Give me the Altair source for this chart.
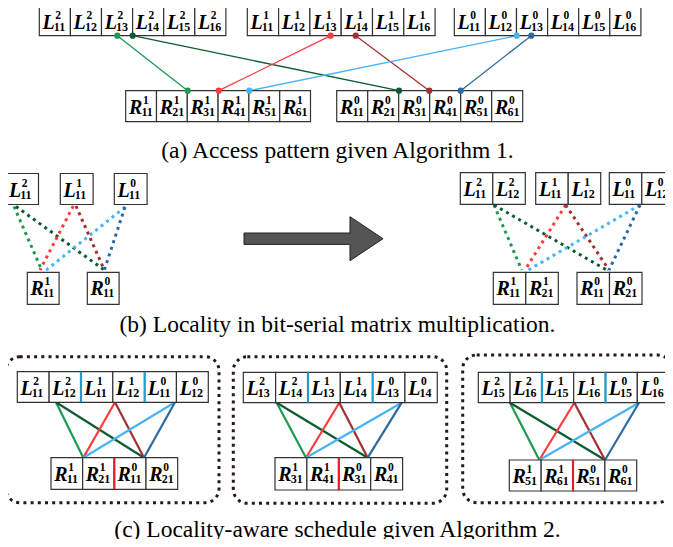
import altair as alt
import pandas as pd

# ---------------- canvas (data units = reference page pixels) ----------------
W, H = 657, 531
XD = [8, 8 + W]
YD = [8, 8 + H]

SERIF = "Liberation Serif"

# ---------------- colours ----------------
COL = {"g": "#1c9a50", "dg": "#0c5b32", "r": "#ff3b3b", "dr": "#a3302e",
       "lb": "#46b4f6", "db": "#2c69a0"}
BOX_STROKE = "#333333"
SEP_BLUE = "#1f9ccc"
SEP_RED = "#e3202a"
PANEL_STROKE = "#2a1818"
ARROW_FILL = "#555555"

# ---------------- text ----------------
CAPTIONS = ["(a) Access pattern given Algorithm 1.",
            "(b) Locality in bit-serial matrix multiplication.",
            "(c) Locality-aware schedule given Algorithm 2."]

# ---------------- cell label lists ----------------
A_L2_SUP = ["2"] * 6; A_L2_SUB = ["11", "12", "13", "14", "15", "16"]
A_L1_SUP = ["1"] * 6; A_L1_SUB = ["11", "12", "13", "14", "15", "16"]
A_L0_SUP = ["0"] * 6; A_L0_SUB = ["11", "12", "13", "14", "15", "16"]
A_R1_SUP = ["1"] * 6; A_R1_SUB = ["11", "21", "31", "41", "51", "61"]
A_R0_SUP = ["0"] * 6; A_R0_SUB = ["11", "21", "31", "41", "51", "61"]

B1_L_SUP = [["2"], ["1"], ["0"]]; B1_L_SUB = [["11"], ["11"], ["11"]]
B1_R_SUP = [["1"], ["0"]];        B1_R_SUB = [["11"], ["11"]]
B2_L_SUP = [["2", "2"], ["1", "1"], ["0", "0"]]; B2_L_SUB = [["11", "12"]] * 3
B2_R_SUP = [["1", "1"], ["0", "0"]];             B2_R_SUB = [["11", "21"]] * 2

C_L_SUP = ["2", "2", "1", "1", "0", "0"]
C_L_SUB = [["11", "12", "11", "12", "11", "12"],
           ["13", "14", "13", "14", "13", "14"],
           ["15", "16", "15", "16", "15", "16"]]
C_R_SUP = ["1", "1", "0", "0"]
C_R_SUB = [["11", "21", "11", "21"],
           ["31", "41", "31", "41"],
           ["51", "61", "51", "61"]]

# ---------------- layout (row left, top, cell width, cell height) ----------------
A_ROWS = [("L", A_L2_SUP, A_L2_SUB, 39.3, 6.0, 31.1, 29.7),
          ("L", A_L1_SUP, A_L1_SUB, 247.3, 6.0, 31.3, 29.7),
          ("L", A_L0_SUP, A_L0_SUB, 454.3, 6.0, 31.1, 29.7),
          ("R", A_R1_SUP, A_R1_SUB, 125.7, 90.7, 30.8, 31.0),
          ("R", A_R0_SUP, A_R0_SUB, 336.7, 90.7, 31.0, 31.0)]
B1_L_LEFT = [5.7, 60.3, 114.3]; B1_L_TOP = 173.5; B1_W = 32.8; B1_H = 31.0
B1_R_LEFT = [27.3, 87.3];       B1_R_TOP = 272.3
B2_L_LEFT = [460.3, 535.7, 609.3]; B2_L_TOP = 172.7; B2_W = 32.5
B2_R_LEFT = [493.3, 577.0];        B2_R_TOP = 272.3
C_PANEL = [(5.7, 219.0, 356.7, 502.7), (233.3, 446.7, 356.7, 503.3), (462.7, 671.7, 355.0, 502.7)]
C_LROW = [(17.3, 371.7, 31.83, 30.6), (243.3, 372.3, 32.33, 30.4), (478.3, 372.3, 31.8, 30.4)]
C_RROW = [(51.0, 457.7, 31.67, 31.6), (275.0, 457.7, 31.9, 32.3), (509.3, 460.0, 31.85, 31.0)]

# ---------------- connections ----------------
A_LINK_TOP = [117.3, 132.7, 330.7, 355.7, 516.7, 531.3]
A_LINK_BOT = [187.7, 399.0, 218.7, 429.3, 249.3, 460.7]
A_LINK_COL = ["g", "dg", "r", "dr", "lb", "db"]
A_Y_TOP, A_Y_BOT = 35.7, 90.7
B_LINKS = [(14.0, 206.5, 41.7, 270.0), (16.0, 206.5, 104.3, 270.0),
           (73.3, 206.0, 40.0, 270.0), (76.0, 206.0, 104.3, 270.0),
           (125.0, 207.0, 45.0, 271.0), (125.0, 207.0, 104.3, 270.0),
           (494.0, 205.0, 521.7, 270.0), (494.0, 205.0, 606.7, 270.0),
           (565.7, 205.0, 525.0, 270.0), (565.7, 205.0, 609.0, 270.0),
           (640.0, 205.0, 526.7, 271.0), (640.0, 205.0, 609.0, 270.0)]
B_LINK_COL = ["g", "dg", "r", "dr", "lb", "db"] * 2
C_TOP = [[56.0, 115.0, 175.0], [276.7, 339.3, 401.7], [510.0, 574.3, 639.0]]
C_BOT = [[83.3, 144.0], [306.0, 367.7], [539.3, 605.0]]
C_PAIRS = [(0, 0, "g"), (0, 1, "dg"), (1, 0, "r"), (1, 1, "dr"), (2, 0, "lb"), (2, 1, "db")]

ARROW = dict(cx=313.5, cy=238.7, length=139.0)
ARROW_PATH = ("M -1 -0.082 L 0.525 -0.082 L 0.525 -0.317 L 1 0 "
              "L 0.525 0.317 L 0.525 0.082 L -1 0.082 Z")

CAPTION_X = 337.5
CAPTION_Y = [157.5, 332.0, 537.0]

# ---------------- build tables ----------------
cells, labels = [], []


def add_cell(letter, sup, sub, left, top, w, h):
    cells.append(dict(x=left, x2=left + w, y=top, y2=top + h))
    lw = 11.8 if letter == "L" else 13.0
    labels.append(dict(lx=left + 3.2, ly=top + 23.0, letter=letter,
                       sx=left + 3.2 + lw + 1.0, sy=top + 13.0, sup=sup,
                       bx=left + 3.2 + lw - 0.5, by=top + 25.0, sub=sub))


for letter, sups, subs, left, top, w, h in A_ROWS:
    for i, (s, b) in enumerate(zip(sups, subs)):
        add_cell(letter, s, b, left + i * w, top, w, h)
for left, sups, subs in zip(B1_L_LEFT, B1_L_SUP, B1_L_SUB):
    add_cell("L", sups[0], subs[0], left, B1_L_TOP, B1_W, B1_H)
for left, sups, subs in zip(B1_R_LEFT, B1_R_SUP, B1_R_SUB):
    add_cell("R", sups[0], subs[0], left, B1_R_TOP, B1_W - 1, B1_H + 1)
for left, sups, subs in zip(B2_L_LEFT, B2_L_SUP, B2_L_SUB):
    for i in range(2):
        add_cell("L", sups[i], subs[i], left + i * B2_W, B2_L_TOP, B2_W, B1_H + 0.6)
for left, sups, subs in zip(B2_R_LEFT, B2_R_SUP, B2_R_SUB):
    for i in range(2):
        add_cell("R", sups[i], subs[i], left + i * B2_W, B2_R_TOP, B2_W, B1_H + 1)

seps = []
for p in range(3):
    left, top, w, h = C_LROW[p]
    for i in range(6):
        add_cell("L", C_L_SUP[i], C_L_SUB[p][i], left + i * w, top, w, h)
    for k in (2, 4):
        seps.append(dict(x=left + k * w, y=top, y2=top + h, c=SEP_BLUE))
    left, top, w, h = C_RROW[p]
    for i in range(4):
        add_cell("R", C_R_SUP[i], C_R_SUB[p][i], left + i * w, top, w, h)
    seps.append(dict(x=left + 2 * w, y=top, y2=top + h, c=SEP_RED))

cells = pd.DataFrame(cells)
labels = pd.DataFrame(labels)
seps = pd.DataFrame(seps)

a_links = pd.DataFrame(dict(x=A_LINK_TOP, y=[A_Y_TOP] * 6, x2=A_LINK_BOT,
                            y2=[A_Y_BOT] * 6, c=[COL[k] for k in A_LINK_COL]))
a_dots = pd.DataFrame(dict(x=A_LINK_TOP + A_LINK_BOT,
                           y=[A_Y_TOP] * 6 + [A_Y_BOT] * 6,
                           c=[COL[k] for k in A_LINK_COL] * 2))
b_links = pd.DataFrame([dict(x=a, y=b, x2=c, y2=d, c=COL[k])
                        for (a, b, c, d), k in zip(B_LINKS, B_LINK_COL)])
c_links = []
for p in range(3):
    ytop = C_LROW[p][1] + C_LROW[p][3]
    ybot = C_RROW[p][1]
    for ti, bi, k in C_PAIRS:
        c_links.append(dict(x=C_TOP[p][ti], y=ytop, x2=C_BOT[p][bi], y2=ybot, c=COL[k]))
c_links = pd.DataFrame(c_links)
panels = pd.DataFrame([dict(x=a, x2=b, y=c, y2=d) for a, b, c, d in C_PANEL])
arrow = pd.DataFrame([dict(x=ARROW["cx"], y=ARROW["cy"])])
caps = pd.DataFrame(dict(x=[CAPTION_X] * 3, y=CAPTION_Y, t=CAPTIONS))

# ---------------- scales ----------------
xs = alt.Scale(domain=XD, nice=False, zero=False)
ys = alt.Scale(domain=YD, nice=False, zero=False, reverse=True)


def X(f):
    return alt.X(f, type="quantitative", scale=xs, axis=None)


def Y(f):
    return alt.Y(f, type="quantitative", scale=ys, axis=None)


nocol = alt.Color("c:N", scale=None, legend=None)

panel_layer = alt.Chart(panels).mark_rect(
    filled=False, stroke=PANEL_STROKE, strokeWidth=3,
    strokeDash=[3, 4.2], cornerRadius=14
).encode(x=X("x"), x2="x2", y=Y("y"), y2="y2")

a_link_layer = alt.Chart(a_links).mark_rule(strokeWidth=1.3).encode(
    x=X("x"), y=Y("y"), x2="x2", y2="y2", color=nocol)
b_link_layer = alt.Chart(b_links).mark_rule(strokeWidth=3, strokeDash=[3, 4]).encode(
    x=X("x"), y=Y("y"), x2="x2", y2="y2", color=nocol)
c_link_layer = alt.Chart(c_links).mark_rule(strokeWidth=2.2).encode(
    x=X("x"), y=Y("y"), x2="x2", y2="y2", color=nocol)

cell_layer = alt.Chart(cells).mark_rect(
    fill="white", stroke=BOX_STROKE, strokeWidth=1.2
).encode(x=X("x"), x2="x2", y=Y("y"), y2="y2")

sep_layer = alt.Chart(seps).mark_rule(strokeWidth=2.2).encode(
    x=X("x"), y=Y("y"), y2="y2", color=nocol)

dot_layer = alt.Chart(a_dots).mark_point(
    filled=True, size=38, opacity=1, shape="circle"
).encode(x=X("x"), y=Y("y"), color=nocol)

letter_layer = alt.Chart(labels).mark_text(
    font=SERIF, fontSize=20, fontStyle="italic", fontWeight="bold",
    align="left", baseline="alphabetic", color="black"
).encode(x=X("lx"), y=Y("ly"), text="letter:N")
sup_layer = alt.Chart(labels).mark_text(
    font=SERIF, fontSize=11.5, fontWeight="bold",
    align="left", baseline="alphabetic", color="black"
).encode(x=X("sx"), y=Y("sy"), text="sup:N")
sub_layer = alt.Chart(labels).mark_text(
    font=SERIF, fontSize=12, fontWeight="bold",
    align="left", baseline="alphabetic", color="black"
).encode(x=X("bx"), y=Y("by"), text="sub:N")

arrow_layer = alt.Chart(arrow).mark_point(
    shape=ARROW_PATH, size=ARROW["length"] ** 2, filled=True, fill=ARROW_FILL,
    stroke="#222222", strokeWidth=1, opacity=1
).encode(x=X("x"), y=Y("y"))

cap_layer = alt.Chart(caps).mark_text(
    font=SERIF, fontSize=23.5, align="center", baseline="alphabetic",
    color="black"
).encode(x=X("x"), y=Y("y"), text="t:N")

chart = alt.layer(
    panel_layer, a_link_layer, b_link_layer, c_link_layer, cell_layer,
    sep_layer, dot_layer, letter_layer, sup_layer, sub_layer, arrow_layer, cap_layer
).properties(
    width=W, height=H, padding=0, autosize=alt.AutoSizeParams(type="none")
).configure_view(stroke=None)

chart.save("out.html", embed_options={"renderer": "svg", "actions": False})
